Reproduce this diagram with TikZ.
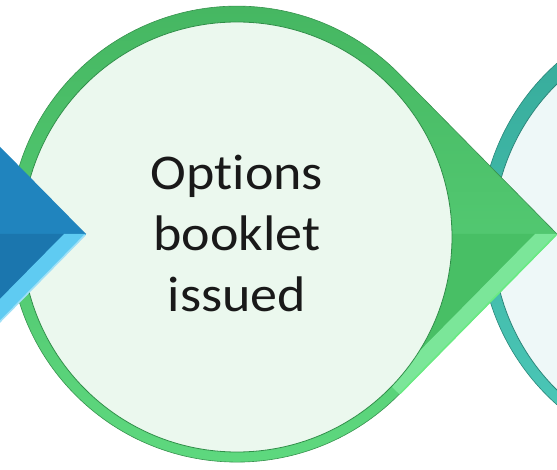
\documentclass[tikz,border=0pt]{standalone}
\usepackage{fontspec}
\newfontfamily\stagefont[FakeStretch=1.08, Ligatures=NoCommon]{Carlito}
\usetikzlibrary{positioning}

\definecolor{greentop}{HTML}{45B661}
\definecolor{greenbottom}{HTML}{5FDA80}
\definecolor{greenlow}{HTML}{48BF65}
\definecolor{greenbevel}{HTML}{7BE699}
\definecolor{greenedge}{HTML}{2F8E48}
\definecolor{greendisc}{HTML}{EBF8EE}
\definecolor{bluehead}{HTML}{2084BE}
\definecolor{bluelow}{HTML}{1B76AE}
\definecolor{bluebevel}{HTML}{5FCBF2}
\definecolor{tealtop}{HTML}{35A998}
\definecolor{tealbottom}{HTML}{4DCABA}
\definecolor{tealedge}{HTML}{2A8579}
\definecolor{tealdisc}{HTML}{EEF8F8}

\tikzset{%
  ring/.style 2 args={top color=#1, bottom color=#2, draw=#1!80!black, line width=0.6pt},
  disc/.style={line width=0.8pt},
  bevel/.style={fill=#1},
  glint/.style={draw=#1, line width=1.6pt},
  stagetext/.style={align=center, text=black!90,
    font=\stagefont\fontsize{50}{61}\selectfont}
}

\begin{document}
\begin{tikzpicture}[x=1pt, y=1pt]
  \useasboundingbox (0,0) rectangle (557,469);
  \clip (0,0) rectangle (557,469);

  % next stage (teal), only its circle shows
  \path[ring={tealtop}{tealbottom}] (708,235) circle[radius=228];
  \filldraw[disc, fill=tealdisc, draw=tealedge] (708,232) circle[radius=215];

  % this stage (green drop)
  \path[ring={greentop}{greenbottom}] (557,235) -- (399.4,74.9) arc[start angle=-44.57, end angle=-315.43, radius=228] -- cycle;
  \fill[greenlow] (557,235) -- (399.4,74.9) -- (399.4,235) -- cycle;
  \fill[bevel=greenbevel] (557,235) -- (399.4,74.9) -- (388,86) -- (535,235) -- cycle;
  \draw[glint=green!15!greenbevel] (556,234) -- (400,75.5);
  \filldraw[disc, fill=greendisc, draw=greenedge] (237,232) circle[radius=215];

  % previous stage (blue drop), only its point shows
  \fill[bluehead] (86,235) -- (-71.6,74.9) arc[start angle=-44.57, end angle=-315.43, radius=228] -- cycle;
  \fill[bluelow] (86,235) -- (-71.6,74.9) -- (-71.6,235) -- cycle;
  \fill[bevel=bluebevel] (86,235) -- (-71.6,74.9) -- (-83,86) -- (64,235) -- cycle;
  \draw[glint=white!40!bluebevel] (85,234) -- (-70,76);

  \node[stagetext] (issued) at (237,236) {Options\\booklet\\issued};
\end{tikzpicture}
\end{document}
